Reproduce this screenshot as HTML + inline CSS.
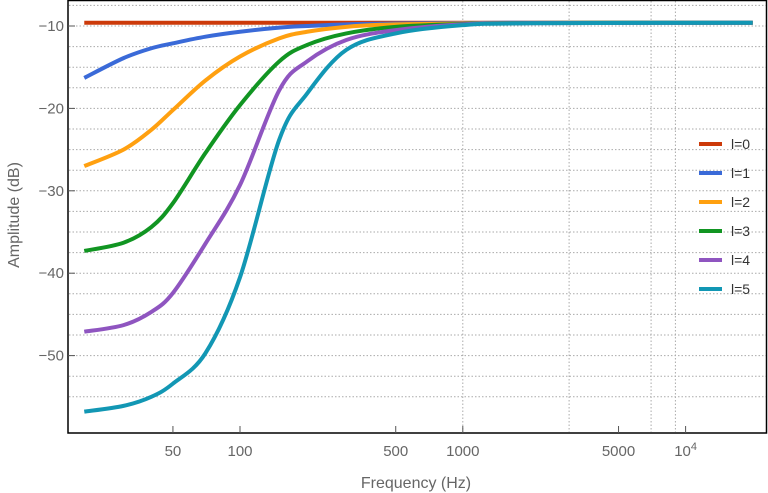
<!DOCTYPE html>
<html><head><meta charset="utf-8"><style>
body{margin:0;background:#fff;}
svg{display:block;font-family:"Liberation Sans",sans-serif;}
</style></head><body>
<svg id="chart" width="768" height="493" viewBox="0 0 768 493" xmlns="http://www.w3.org/2000/svg">
<g id="grid"></g>
<g id="series"></g>
<rect x="68" y="0.5" width="698.5" height="432.5" fill="none" stroke="#000" stroke-width="1.5"/>
<g id="axes"></g>
<g id="legend"></g>
<text x="416" y="488" text-anchor="middle" font-size="16" fill="#666">Frequency (Hz)</text>
<text transform="translate(19,215) rotate(-90)" text-anchor="middle" font-size="16" fill="#666">Amplitude (dB)</text>
</svg>
<script>
const freqs = [20,30,40,50,70,100,150,200,300,500,1000,2000,20000];
const seriesNames = ["l=0","l=1","l=2","l=3","l=4","l=5"];
const l0 = [-9.6,-9.6,-9.6,-9.6,-9.6,-9.6,-9.6,-9.6,-9.6,-9.6,-9.6,-9.6,-9.6];
const l1 = [-16.3,-13.9,-12.7,-12.1,-11.3,-10.7,-10.2,-10.0,-9.8,-9.7,-9.65,-9.6,-9.6];
const l2 = [-27.0,-25.0,-22.6,-20.2,-16.6,-13.7,-11.5,-10.7,-10.1,-9.8,-9.7,-9.62,-9.6];
const l3 = [-37.3,-36.3,-34.4,-31.5,-25.4,-19.6,-14.3,-12.3,-10.9,-10.1,-9.75,-9.63,-9.6];
const l4 = [-47.1,-46.3,-44.7,-42.4,-36.4,-29.3,-17.8,-14.3,-11.7,-10.5,-9.8,-9.65,-9.6];
const l5 = [-56.8,-56.1,-55.0,-53.4,-49.7,-40.5,-23.8,-18.2,-12.9,-10.9,-9.9,-9.67,-9.6];
const allSeries = [l0,l1,l2,l3,l4,l5];
const colors = ["#cc3a0a","#3a6ad8","#ffa010","#119522","#8f55c0","#1297b4"];
const xTicks = [50,100,500,1000,5000,10000];
const xTickLabels = ["50","100","500","1000","5000","10^4"];
const yTicks = [-10,-20,-30,-40,-50];
const vGrid = [1000,3000,7000,9000];

const NS="http://www.w3.org/2000/svg";
function xs(f){return 240+222.8*Math.log10(f/100);}
function ys(v){return 26+(-10-v)*8.24;}
function mk(tag,attrs,parent){const e=document.createElementNS(NS,tag);for(const k in attrs)e.setAttribute(k,attrs[k]);parent.appendChild(e);return e;}
const grid=document.getElementById('grid'),axes=document.getElementById('axes'),ser=document.getElementById('series'),leg=document.getElementById('legend');
for(let v=-7.5;v>=-55;v-=2.5){
  const l=mk('line',{x1:69,x2:766,y1:ys(v),y2:ys(v),stroke:'#aaa','stroke-width':1,'stroke-dasharray':'1.5,2'},grid);
  
  
}
vGrid.forEach(f=>{
  const l=mk('line',{x1:xs(f),x2:xs(f),y1:1,y2:432,stroke:'#aaa','stroke-width':1,'stroke-dasharray':'1.5,2'},grid);
  
  
});
xTicks.forEach((f,i)=>{
  const t=mk('line',{x1:xs(f),x2:xs(f),y1:433,y2:426,stroke:'#555','stroke-width':1},axes);
  
  
  const tx=mk('text',{x:xs(f),y:456,'text-anchor':'middle','font-size':15,fill:'#666'},axes);
  
  
  const lab=xTickLabels[i];
  if(lab.indexOf('^')>0){const p=lab.split('^');tx.textContent=p[0];const s=mk('tspan',{'font-size':11,dy:-6},tx);s.textContent=p[1];}
  else tx.textContent=lab;
});
yTicks.forEach(v=>{
  const t=mk('line',{x1:68,x2:75,y1:ys(v),y2:ys(v),stroke:'#555','stroke-width':1},axes);
  
  
  const tx=mk('text',{x:64,y:ys(v)+5,'text-anchor':'end','font-size':15,fill:'#666'},axes);
  
  
  tx.textContent='\u2212'+Math.abs(v);
});
function pathFor(vals){
  const p=freqs.map((f,i)=>[xs(f),ys(vals[i])]);
  let d='M'+p[0][0].toFixed(2)+','+p[0][1].toFixed(2);
  for(let i=0;i<p.length-1;i++){
    const p0=p[Math.max(0,i-1)],p1=p[i],p2=p[i+1],p3=p[Math.min(p.length-1,i+2)];
    const c1=[p1[0]+(p2[0]-p0[0])/6,p1[1]+(p2[1]-p0[1])/6];
    const c2=[p2[0]-(p3[0]-p1[0])/6,p2[1]-(p3[1]-p1[1])/6];
    d+=' C'+c1.map(n=>n.toFixed(2)).join(',')+' '+c2.map(n=>n.toFixed(2)).join(',')+' '+p2[0].toFixed(2)+','+p2[1].toFixed(2);
  }
  return d;
}
allSeries.forEach((vals,i)=>{
  const path=mk('path',{d:pathFor(vals),fill:'none',stroke:colors[i],'stroke-width':4,'stroke-linejoin':'round'},ser);
  
  
  const ly=144+i*29;
  const ll=mk('line',{x1:699,x2:722,y1:ly,y2:ly,stroke:colors[i],'stroke-width':4},leg);
  
  
  const lt=mk('text',{x:731,y:ly+5,'font-size':14,fill:'#333'},leg);
  
  
  lt.textContent=seriesNames[i];
});
</script>
</body></html>
